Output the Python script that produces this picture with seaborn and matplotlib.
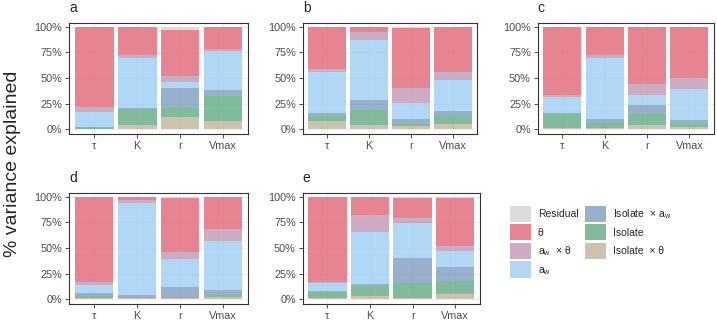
import matplotlib
matplotlib.use('Agg')
import matplotlib.pyplot as plt
import seaborn as sns
import numpy as np
from matplotlib.patches import Patch

params = ['τ', 'K', 'r', 'Vmax']
panels = ['a', 'b', 'c', 'd', 'e']

# % variance explained, one row per panel (a-e), one value per parameter
isolate_theta = [[0.5, 4, 11.5, 8], [8, 4, 3, 5.5], [1.3, 1.3, 4, 2],
                 [1.3, 1.3, 1.3, 2], [1.3, 3.3, 1.3, 5.2]]
isolate = [[1.5, 16, 9.5, 24], [5, 15, 2, 7.5], [14, 5.2, 11, 3.5],
           [2, 0.7, 1.3, 1.9], [5.9, 9.7, 14.3, 12.4]]
isolate_aw = [[0.3, 1, 19, 6], [3, 9.5, 5, 5], [0.7, 3.5, 8.5, 3.3],
              [2.6, 1.9, 9.1, 4.6], [0.6, 2, 24.8, 14.3]]
aw = [[14.5, 49, 6, 38.5], [40, 58.5, 16, 30], [15.6, 59.4, 10, 30.6],
      [7.8, 89.6, 28, 48.8], [7.8, 50.8, 33.9, 15]]
aw_theta = [[4.5, 2, 6, 2], [2.5, 8, 14.5, 8], [2, 3.2, 11, 11],
            [2.6, 3.2, 5.9, 11.1], [1.4, 16.9, 5.2, 5.2]]
theta = [[78.7, 27.5, 45, 21.5], [41.5, 4.5, 58, 44], [66.4, 27.4, 55, 49.6],
         [83.7, 3.3, 52.8, 31.6], [83, 17.3, 19.5, 46.9]]
residual = [[0, 0.5, 3, 0], [0, 0.5, 1.5, 0], [0, 0, 0.5, 0],
            [0, 0, 1.6, 0], [0, 0, 1, 1]]

# bottom to top
stack = [isolate_theta, isolate, isolate_aw, aw, aw_theta, theta, residual]
colors = ['#BEB49A', '#60AA82', '#7D9CBE', '#9CCEF3', '#C197B5', '#E16677', '#D4D4D4']
labels = ['Isolate  × θ', 'Isolate', r'Isolate  × a$_\mathregular{w}$',
          r'a$_\mathregular{w}$', r'a$_\mathregular{w}$  × θ', 'θ', 'Residual']

sns.set_style('white')
plt.rcParams['font.family'] = ['Liberation Sans', 'DejaVu Sans']

fig = plt.figure(figsize=(7.17, 3.21), dpi=100)

# axes boxes in pixels: left, right, top, bottom
boxes = [(69.3, 248, 22.7, 134.3), (303, 477, 22.7, 134.3), (537.7, 714, 22.7, 134.3),
         (69, 248, 192.7, 304.3), (302.7, 480, 192.7, 304.3)]

for i, letter in enumerate(panels):
    l, r, t, b = boxes[i]
    ax = fig.add_axes([l / 717, 1 - b / 321, (r - l) / 717, (b - t) / 321])
    bottom = np.zeros(4)
    for vals, col in zip(stack, colors):
        v = np.array(vals[i], dtype=float)
        sns.barplot(x=params, y=v, bottom=bottom.copy(), color=col, alpha=0.8,
                    width=0.9, saturation=1, errorbar=None, linewidth=0, ax=ax, zorder=2)
        bottom += v
    ax.set_xlim(-0.58, 3.58)
    ax.set_ylim(-5, 104)
    ax.set_yticks([0, 25, 50, 75, 100])
    ax.set_yticklabels(['0%', '25%', '50%', '75%', '100%'])
    ax.set_xlabel('')
    ax.set_ylabel('')
    ax.grid(True, color='#EBEBEB', lw=0.6, zorder=0)
    ax.set_axisbelow(True)
    for s in ax.spines.values():
        s.set_color('#333333')
        s.set_linewidth(0.8)
    ax.tick_params(length=3, width=0.6, color='#333333', labelcolor='#4D4D4D',
                   labelsize=7.8, pad=2, left=True, bottom=True)
    ax.set_title(letter, loc='left', fontsize=10, pad=8)

fig.text(0.018, 0.489, '% variance explained', rotation=90, va='center', ha='center',
         fontsize=14)

order = [6, 5, 4, 3, 2, 1, 0]
handles = [Patch(facecolor=colors[k], alpha=0.8, lw=0) for k in order]
fig.legend(handles, [labels[k] for k in order], loc='upper left',
           bbox_to_anchor=(510 / 717, 1 - 205.7 / 321), ncol=2, frameon=False,
           fontsize=7.5, handlelength=2.0, handleheight=2.0, labelspacing=0.24,
           handletextpad=0.67, columnspacing=0.67, borderpad=0, borderaxespad=0)

fig.savefig('out.png', dpi=100)
